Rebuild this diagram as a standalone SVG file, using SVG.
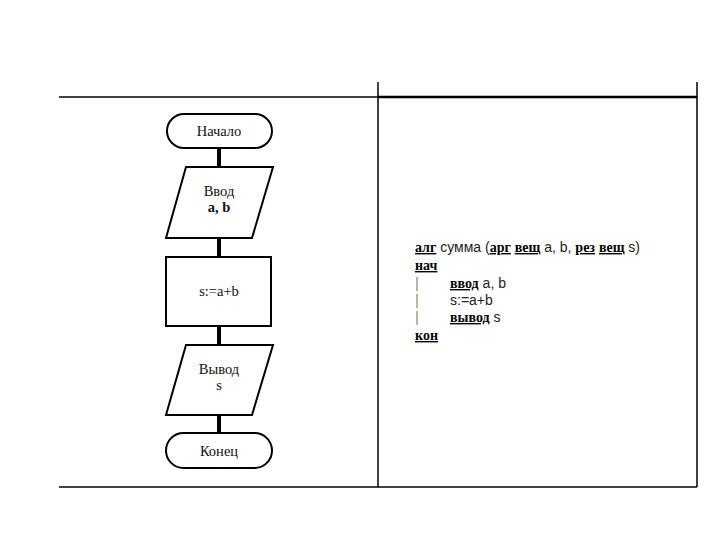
<svg xmlns="http://www.w3.org/2000/svg" width="720" height="540" viewBox="0 0 720 540">
<style>
.tbl{stroke:#000;fill:none}
.shape{fill:#fff;stroke:#000;stroke-width:2}
.fc{font-family:"Liberation Serif",serif;font-size:14.5px;fill:#111;text-anchor:middle}
.code{font-family:"Liberation Sans",sans-serif;font-size:14px;fill:#222}
.kw{font-family:"Liberation Serif",serif;font-weight:bold;text-decoration:underline;fill:#000}
.conn{stroke:#000;stroke-width:4}
.bar{stroke:#a89880;stroke-width:1.5}
</style>
<rect width="720" height="540" fill="#fff"/>
<g id="table">
<line class="tbl" x1="59" y1="97" x2="378" y2="97" stroke-width="1.5"/>
<line class="tbl" x1="378" y1="97" x2="697" y2="97" stroke-width="2.5"/>
<line class="tbl" x1="378" y1="82" x2="378" y2="487" stroke-width="1.5"/>
<line class="tbl" x1="697" y1="82" x2="697" y2="487" stroke-width="1.5"/>
<line class="tbl" x1="59" y1="487" x2="697" y2="487" stroke-width="1.5"/>
</g>
<g id="connectors">
<line class="conn" x1="219" y1="148" x2="219" y2="167"/>
<line class="conn" x1="219" y1="238" x2="219" y2="256"/>
<line class="conn" x1="219" y1="327" x2="219" y2="345"/>
<line class="conn" x1="219" y1="415" x2="219" y2="433"/>
</g>
<g id="start">
<rect class="shape" x="167" y="114" width="105" height="34" rx="17"/>
<text class="fc" x="219" y="136">Начало</text>
</g>
<g id="input">
<polygon class="shape" points="186,167 273,167 252,238 166,238"/>
<text class="fc" x="219" y="196">Ввод</text>
<text class="fc" x="219" y="212" font-weight="bold">a, b</text>
</g>
<g id="assign">
<rect class="shape" x="166" y="257" width="105" height="69" stroke-width="3"/>
<text class="fc" x="219" y="296">s:=a+b</text>
</g>
<g id="output">
<polygon class="shape" points="186,345 273,345 252,415 166,415"/>
<text class="fc" x="219" y="374">Вывод</text>
<text class="fc" x="219" y="390">s</text>
</g>
<g id="end">
<rect class="shape" x="166" y="433" width="106" height="35" rx="17.5"/>
<text class="fc" x="219" y="456">Конец</text>
</g>
<g id="code">
<text class="code" x="415" y="252"><tspan class="kw">алг</tspan> сумма (<tspan class="kw">арг</tspan> <tspan class="kw">вещ</tspan> a, b, <tspan class="kw">рез</tspan> <tspan class="kw">вещ</tspan> s)</text>
<text class="code" x="415" y="270"><tspan class="kw">нач</tspan></text>
<line class="bar" x1="417" y1="277" x2="417" y2="291"/>
<line class="bar" x1="417" y1="294" x2="417" y2="308"/>
<line class="bar" x1="417" y1="311" x2="417" y2="325"/>
<text class="code" x="450" y="288"><tspan class="kw">ввод</tspan> a, b</text>
<text class="code" x="450" y="305">s:=a+b</text>
<text class="code" x="450" y="322"><tspan class="kw">вывод</tspan> s</text>
<text class="code" x="415" y="340"><tspan class="kw">кон</tspan></text>
</g>
</svg>
